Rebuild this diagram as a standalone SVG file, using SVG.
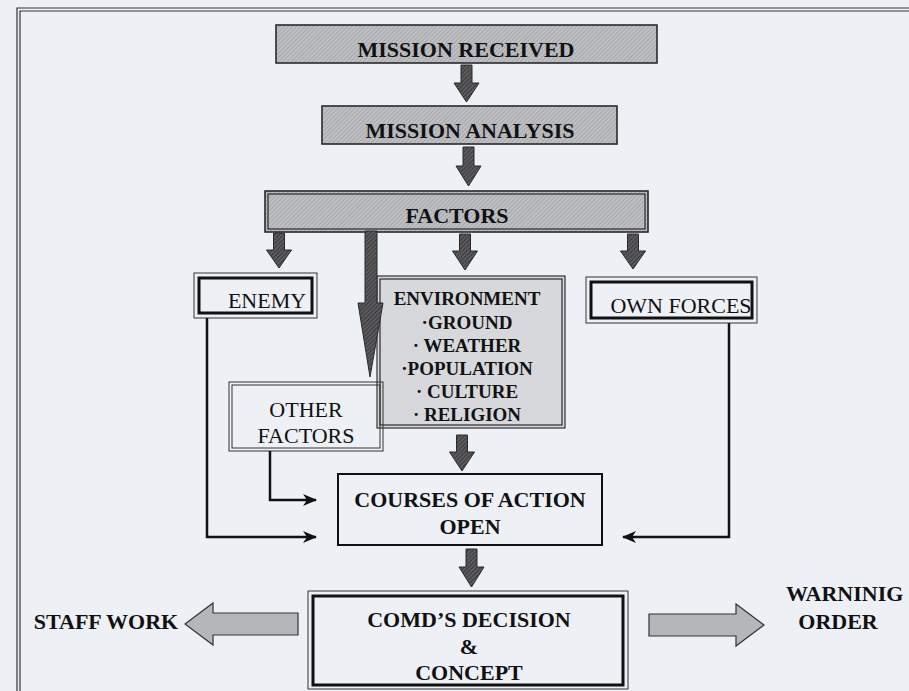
<svg xmlns="http://www.w3.org/2000/svg" width="909" height="691" viewBox="0 0 909 691">
<style>
.bg{fill:#edf0f5}
.frame{fill:none;stroke:#333;stroke-width:1.2}
.grayBox{fill:url(#hatchLight);stroke:#2a2a2a;stroke-width:1.6}
.inner{fill:none;stroke:#2a2a2a;stroke-width:1.2}
.thin{fill:none;stroke:#333;stroke-width:1}
.thick{fill:none;stroke:#111;stroke-width:3}
.envBox{fill:#d6d8dc;stroke:#333;stroke-width:1.2}
.plain{fill:none;stroke:#111;stroke-width:2}
.darr{fill:url(#hatchDark);stroke:#2a2a2a;stroke-width:1}
.barr{fill:#b4b6b9;stroke:#333;stroke-width:1.2}
.conn{fill:none;stroke:#111;stroke-width:2.5}
.tb{font-family:"Liberation Serif",serif;font-weight:bold;font-size:22px;fill:#111;text-anchor:middle}
.tr{font-family:"Liberation Serif",serif;font-size:22px;fill:#111;text-anchor:middle}
.te{font-family:"Liberation Serif",serif;font-weight:bold;font-size:19px;fill:#111;text-anchor:middle}
</style>
<defs>
<pattern id="hatchLight" patternUnits="userSpaceOnUse" width="3" height="3" patternTransform="rotate(45)">
<rect width="3" height="3" fill="#bfc0c3"/>
<rect width="1" height="3" fill="#a6a7aa"/>
</pattern>
<pattern id="hatchDark" patternUnits="userSpaceOnUse" width="3" height="3" patternTransform="rotate(45)">
<rect width="3" height="3" fill="#5c5c5e"/>
<rect width="1" height="3" fill="#3a3a3c"/>
</pattern>
<marker id="ah" viewBox="0 0 14 12" markerWidth="14" markerHeight="12" refX="13" refY="6" orient="auto" markerUnits="userSpaceOnUse">
<path d="M0,0 L14,6 L0,12 L4,6 Z" fill="#111"/>
</marker>
</defs>
<rect class="bg" x="0" y="0" width="909" height="691"/>
<path class="frame" d="M17,691 V8 H909"/>
<path class="frame" d="M20,691 V11 H909"/>

<g id="mission-received">
<rect class="grayBox" x="276" y="25" width="381" height="38"/>
<text class="tb" x="466" y="57">MISSION RECEIVED</text>
</g>
<g id="mission-analysis">
<rect class="grayBox" x="322" y="106" width="295" height="38"/>
<text class="tb" x="470" y="138">MISSION ANALYSIS</text>
</g>
<g id="factors">
<rect class="grayBox" x="265" y="191" width="383" height="41"/>
<rect class="inner" x="268" y="194" width="377" height="35"/>
<text class="tb" x="457" y="223">FACTORS</text>
</g>
<g id="enemy">
<rect class="thin" x="194" y="273" width="123" height="45"/>
<rect class="thick" x="199" y="278" width="113" height="35"/>
<text class="tr" x="267" y="308">ENEMY</text>
</g>
<g id="environment">
<rect class="envBox" x="377" y="276" width="188" height="152"/>
<rect class="inner" x="380" y="279" width="182" height="146"/>
<text class="te" x="467" y="305">ENVIRONMENT</text>
<text class="te" x="467" y="329">·GROUND</text>
<text class="te" x="467" y="352">· WEATHER</text>
<text class="te" x="467" y="375">·POPULATION</text>
<text class="te" x="467" y="398">· CULTURE</text>
<text class="te" x="467" y="421">· RELIGION</text>
</g>
<g id="own-forces">
<rect class="thin" x="586" y="277" width="171" height="46"/>
<rect class="thick" x="591" y="282" width="161" height="36"/>
<text class="tr" x="681" y="313">OWN FORCES</text>
</g>
<g id="other-factors">
<rect class="thin" x="229" y="382" width="154" height="69"/>
<rect class="thin" x="232" y="385" width="148" height="63"/>
<text class="tr" x="306" y="417">OTHER</text>
<text class="tr" x="306" y="443">FACTORS</text>
</g>
<g id="courses-of-action">
<rect class="plain" x="338" y="474" width="264" height="71"/>
<text class="tb" x="470" y="507">COURSES OF ACTION</text>
<text class="tb" x="470" y="534">OPEN</text>
</g>
<g id="comd-decision">
<rect class="thin" x="308" y="591" width="320" height="98"/>
<rect class="thick" x="313" y="596" width="310" height="89"/>
<text class="tb" x="469" y="627">COMD’S DECISION</text>
<text class="tb" x="469" y="654">&amp;</text>
<text class="tb" x="469" y="680">CONCEPT</text>
</g>
<g id="staff-work">
<text class="tb" x="106" y="629">STAFF WORK</text>
</g>
<g id="warning-order">
<text class="tb" x="786" y="601" style="text-anchor:start">WARNINIG</text>
<text class="tb" x="838" y="629">ORDER</text>
</g>

<g id="connectors">
<path class="darr" d="M461,65 H472 V83 H479 L466.5,102 L454,83 H461 Z"/>
<path class="darr" d="M463,147 H474 V166 H481 L468.5,186 L456,166 H463 Z"/>
<path class="darr" d="M273.5,233 H284.5 V250 H291.5 L279,268 L266.5,250 H273.5 Z"/>
<path class="darr" d="M365,231 H377 V303 H383 L370,377 L358,303 H365 Z"/>
<path class="darr" d="M459.5,234 H470.5 V251 H477.5 L465,270 L452.5,251 H459.5 Z"/>
<path class="darr" d="M627.5,234 H638.5 V251 H645.5 L633,269 L620.5,251 H627.5 Z"/>
<path class="darr" d="M456.5,435 H467.5 V452 H474.5 L462,471 L449.5,452 H456.5 Z"/>
<path class="darr" d="M466,549 H477 V567 H484 L471.5,587 L459,567 H466 Z"/>
<path class="barr" d="M298,613 H213 V603 L185,624 L213,645 V635 H298 Z"/>
<path class="barr" d="M649,614 H736 V604 L764,625 L736,646 V636 H649 Z"/>
<path class="conn" d="M207,318 V537 H316" marker-end="url(#ah)"/>
<path class="conn" d="M270,451 V500 H316" marker-end="url(#ah)"/>
<path class="conn" d="M729,323 V537 H623" marker-end="url(#ah)"/>
</g>
</svg>
